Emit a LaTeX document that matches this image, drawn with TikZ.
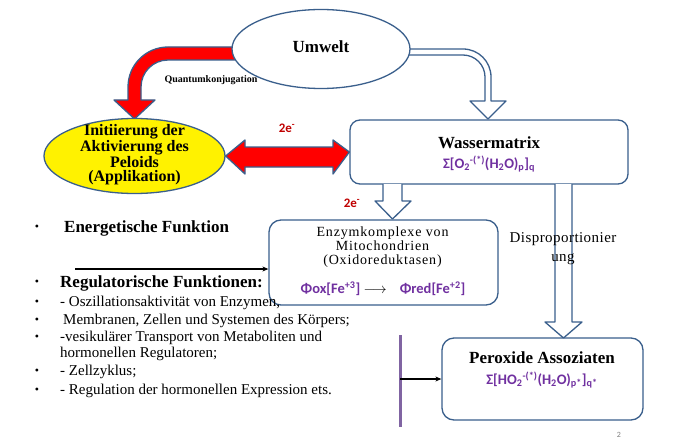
\documentclass[tikz,border=0pt]{standalone}
\usepackage{fontspec}
\setmainfont{Liberation Serif}
\newfontfamily\calfont{Carlito}
\newfontfamily\spacedfont[LetterSpace=6]{Liberation Serif}
\newfontfamily\lspacedfont[LetterSpace=3]{Liberation Serif}
\usetikzlibrary{arrows.meta,shapes.geometric}
\definecolor{bord}{RGB}{58,95,140}
\definecolor{purp}{RGB}{112,48,160}
\definecolor{lpurp}{RGB}{128,100,162}
\definecolor{dred}{RGB}{192,0,0}
\tikzset{
  blockarrow/.style={draw=bord, line width=1.3pt, line join=round},
  box/.style={draw=bord, line width=1.3pt, rounded corners=12pt, fill=white, inner sep=0},
  ell/.style={ellipse, draw=bord, line width=1.3pt, inner sep=0},
  formula/.style={font=\calfont\bfseries\fontsize{14.5}{16}\selectfont, text=purp, inner sep=0},
  eminus/.style={font=\calfont\bfseries\fontsize{13}{15}\selectfont, text=dred, inner sep=0},
  headtxt/.style={font=\bfseries\fontsize{17}{19}\selectfont, inner sep=0},
  listtxt/.style={font=\fontsize{15}{15.5}\selectfont, anchor=west, inner sep=0, align=left},
  bul/.style={font=\fontsize{12}{14}\selectfont, inner sep=0},
  thinarrow/.style={-{Stealth[length=6pt,width=5pt]}, line width=1.2pt, black}
}
\begin{document}
\begin{tikzpicture}[x=1pt,y=-1pt]
\useasboundingbox (0,0) rectangle (679,441);
\fill[white] (0,0) rectangle (679,441);

% hollow bent arrow Umwelt -> Wassermatrix
\draw[blockarrow, fill=white] (400,49) -- (463,49) .. controls (478.5,49) and (491,61.5) .. (491,77)
  -- (491,101) -- (506,101) -- (488,119) -- (470,101) -- (485,101) -- (485,77)
  .. controls (485,64.9) and (475.1,55) .. (463,55) -- (400,55) -- cycle;

% red bent arrow Umwelt -> Initiierung
\draw[blockarrow, fill=red] (250,47) -- (168,47) .. controls (145.9,47) and (128,64.9) .. (128,87)
  -- (128,100) -- (114,100) -- (134.5,119) -- (155,100) -- (141,100) -- (141,87)
  .. controls (141,72.1) and (153.1,60) .. (168,60) -- (250,60) -- cycle;

% Umwelt
\node[ell, fill=white, minimum width=178, minimum height=79] (umw) at (321,49) {};
\node[headtxt] (umwt) at (321,47) {Umwelt};
\node[font=\bfseries\fontsize{10}{12}\selectfont, inner sep=0] (qk) at (211,80) {Quantumkonjugation};

% Initiierung ellipse
\node[ell, fill=yellow, minimum width=181, minimum height=75] (yel) at (134.5,156) {};
\node[font=\bfseries\fontsize{16}{14.5}\selectfont, align=center, inner sep=0] (yelt) at (134.5,155)
  {Initiierung der\\Aktivierung des\\Peloids\\(Applikation)};

% Wassermatrix
\node[box, rounded corners=10pt, minimum width=278, minimum height=64] (wm) at (489,152) {};
\node[headtxt] (wmt) at (489,143) {Wassermatrix};
\node[formula] (wmf) at (489,164) {Σ[O\textsubscript{2}\textsuperscript{-(*)}(H\textsubscript{2}O)\textsubscript{p}]\textsubscript{q}};

% red double arrow
\draw[blockarrow, fill=red] (yel.east) -- (245,140) -- (245,147) -- (333,147) -- (333,140)
  -- (wm.west) -- (333,174) -- (333,167) -- (245,167) -- (245,174) -- cycle;
\node[eminus] (e1) at (287,128) {2e\textsuperscript{-}};

% arrow Wassermatrix -> Enzym
\draw[blockarrow, fill=white] (383,184) -- (383,201) -- (375,201) -- (392.5,219) -- (411,201)
  -- (402,201) -- (402,184);
\node[eminus] (e2) at (352,203) {2e\textsuperscript{-}};

% list text
\node[bul] (b1) at (37,228) {•};
\node[headtxt, anchor=west] (l1) at (64,228) {Energetische Funktion};
\node[bul] (b2) at (37,283) {•};
\node[bul] (b3) at (37,303) {•};
\node[bul] (b4) at (37,321) {•};
\node[bul] (b5) at (37,338) {•};
\node[bul] (b6) at (37,372) {•};
\node[bul] (b7) at (37,391) {•};

% Enzym box
\node[box, minimum width=229, minimum height=85] (enz) at (383.5,262.5) {};
\node[font=\spacedfont\fontsize{14}{14}\selectfont, align=center, inner sep=0] (enzt) at (382.5,247)
  {Enzymkomplexe von\\Mitochondrien\\(Oxidoreduktasen)};
\node[formula] (enzf) at (383,289) {Φox[Fe\textsuperscript{+3}] \textcolor{black}{\normalfont$\longrightarrow$}\hspace{0.9em}Φred[Fe\textsuperscript{+2}]};

\node[headtxt, anchor=west] (l2) at (60,283) {Regulatorische Funktionen:};
\node[listtxt] (l3) at (60,303) {- Oszillationsaktivität von Enzymen,};
\node[listtxt] (l4) at (63,321) {Membranen, Zellen und Systemen des Körpers;};
\node[listtxt, anchor=north west] (l5) at (60,331) {-vesikulärer Transport von Metaboliten und\\hormonellen Regulatoren;};
\node[listtxt] (l6) at (60,372) {- Zellzyklus;};
\node[listtxt] (l7) at (60,391) {- Regulation der hormonellen Expression ets.};

\coordinate (la) at (75,269);
\draw[thinarrow] (la) -- (la -| enz.west);

% Peroxide
\node[box, minimum width=201, minimum height=82] (per) at (542.5,379) {};
\node[headtxt] (pert) at (542,358) {Peroxide Assoziaten};
\node[formula] (perf) at (542,380) {Σ[HO\textsubscript{2}\textsuperscript{-(*)}(H\textsubscript{2}O)\textsubscript{p*}]\textsubscript{q*}};

% arrow Wassermatrix -> Peroxide
\draw[blockarrow, fill=white] (555,184) -- (555,322) -- (545,322) -- (563.5,338) -- (582,322)
  -- (572,322) -- (572,184);
\node[font=\lspacedfont\fontsize{15}{19}\selectfont, align=center, inner sep=0] (disp) at (563,248.5)
  {Disproportionier\\ung};

% purple line and arrow
\coordinate (pt) at (400,335);
\coordinate (pb) at (400,427);
\draw[lpurp, line width=3pt] (pt) -- (pb);
\coordinate (pm) at (400,379);
\draw[thinarrow] (pm) -- (pm -| per.west);

\node[font=\calfont\fontsize{8}{9}\selectfont, text=gray, inner sep=0] (pg) at (619,435) {2};
\end{tikzpicture}
\end{document}
